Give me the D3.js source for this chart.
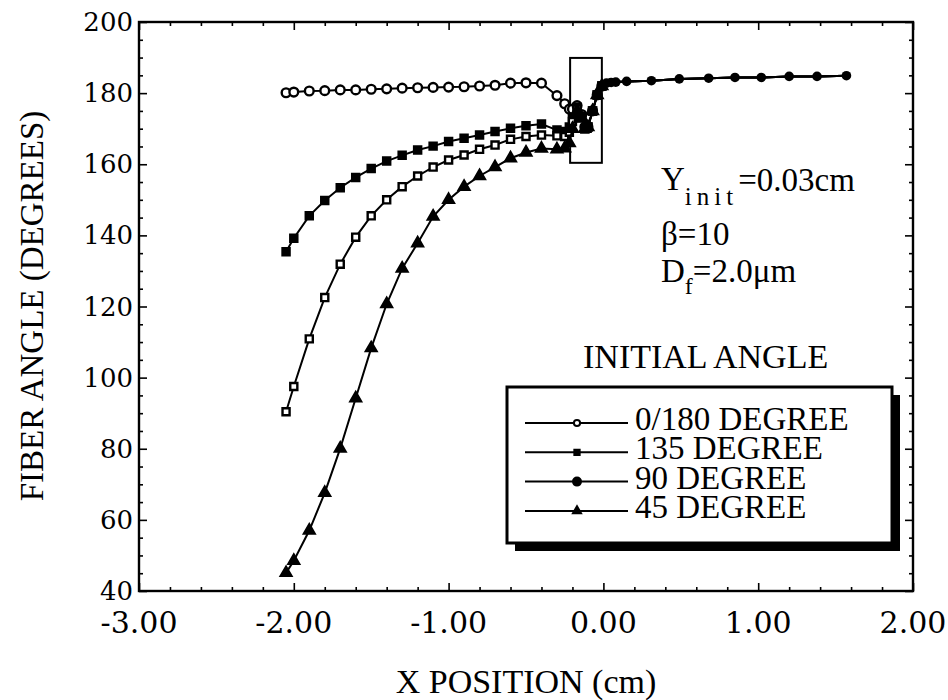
<!DOCTYPE html>
<html>
<head>
<meta charset="utf-8">
<script src="https://cdn.jsdelivr.net/npm/d3@7.9.0/dist/d3.min.js"></script>
<style>
  body { margin: 0; background: #fff; }
  svg { display: block; }
  text { fill: #000; }
</style>
</head>
<body>
<svg width="948" height="700"></svg>
<script>
// x positions shared by all four runs, up to the box
const xApproach = [-2.05, -2.0, -1.9, -1.8, -1.7, -1.6, -1.5, -1.4, -1.3, -1.2, -1.1,
                   -1.0, -0.9, -0.8, -0.7, -0.6, -0.5, -0.4, -0.3, -0.25, -0.22];
// points inside the box
const xBox = [-0.2, -0.17, -0.14, -0.12, -0.1, -0.07, -0.04, -0.01];
// after the box all curves run together
const xTail = [0.02, 0.05, 0.08, 0.15, 0.31, 0.49, 0.68, 0.85, 1.02, 1.2, 1.38, 1.57];
const yTail = [182.8, 183, 183.1, 183.3, 183.5, 184.0, 184.2, 184.4, 184.4, 184.7, 184.7, 184.9];

const y0 = [180.1, 180.3, 180.6, 180.7, 180.9, 180.9, 181.1, 181.2, 181.4, 181.5, 181.6,
            181.7, 181.8, 182.0, 182.2, 182.8, 182.9, 182.8, 179.3, 177, 175.5,
            175.5, 176.5, 174, 170.5, 170.5, 175, 179.5, 182];
const y135 = [135.4, 139.2, 145.5, 149.8, 153.4, 156.3, 158.8, 160.9, 162.5, 164.0, 165.1,
              166.4, 167.3, 168.2, 169.2, 170.1, 170.8, 171.3, 169.6, 169.2, 170.5,
              173, 176, 173.5, 170, 170.5, 175, 179.5, 182];
const y90 = [90.4, 97.5, 110.9, 122.5, 131.9, 139.5, 145.5, 150, 153.7, 156.7, 159.2,
             161.2, 162.6, 164.2, 165.4, 167, 167.8, 168.2, 168, 167.8, 169,
             172, 175.5, 173, 170, 170.5, 175, 179.5, 182];
const y45 = [45.1, 48.5, 57, 67.6, 80.1, 94.2, 108.3, 120.7, 130.7, 137.8, 145.3,
             150, 153.7, 156.7, 159.2, 161.7, 163.3, 164.4, 164.2, 164.5, 166,
             170, 175, 173, 170, 170.5, 175, 179.5, 182];

const seriesNames = ['0/180 DEGREE', '135 DEGREE', '90 DEGREE', '45 DEGREE'];
const xTicks = [-3, -2, -1, 0, 1, 2];
const yTicks = [40, 60, 80, 100, 120, 140, 160, 180, 200];
const boxX = [-0.215, -0.01];
const boxY = [160.4, 189.9];

const svg = d3.select('svg');
const serif = 'Liberation Serif';
const tickFont = 'DejaVu Serif';

let x = d3.scaleLinear().domain([-3, 2]).range([139, 913]);
let y = d3.scaleLinear().domain([40, 200]).range([591, 22]);

const xMinor = d3.range(-3, 2.001, 0.2).map(d => +d.toFixed(1)).filter(d => !xTicks.includes(d));
const yMinor = d3.range(40, 201, 5).filter(d => !yTicks.includes(d));

// tick marks on all four sides, pointing inward
function ticks(axis, tr, vals, len) {
  let g = svg.append('g').attr('transform', tr)
    .call(axis.tickValues(vals).tickSize(-len).tickFormat(''));
  g.select('.domain').remove();
  g.selectAll('line').attr('stroke', '#000').attr('stroke-width', 1.6);
  return g;
}
ticks(d3.axisBottom(x), 'translate(0,591)', xTicks, 8);
ticks(d3.axisBottom(x), 'translate(0,591)', xMinor, 4);
ticks(d3.axisTop(x), 'translate(0,22)', xTicks, 8);
ticks(d3.axisTop(x), 'translate(0,22)', xMinor, 4);
ticks(d3.axisLeft(y), 'translate(139,0)', yTicks, 8);
ticks(d3.axisLeft(y), 'translate(139,0)', yMinor, 4);
ticks(d3.axisRight(y), 'translate(913,0)', yTicks, 8);
ticks(d3.axisRight(y), 'translate(913,0)', yMinor, 4);

// frame
svg.append('rect')
  .attr('x', 139).attr('y', 22).attr('width', 913 - 139).attr('height', 591 - 22)
  .attr('fill', 'none').attr('stroke', '#000').attr('stroke-width', 2.4);

// tick labels
svg.append('g').selectAll('text').data(xTicks).join('text')
  .attr('x', d => x(d)).attr('y', 633)
  .attr('text-anchor', 'middle')
  .attr('font-family', tickFont).attr('font-size', 30)
  .text(d => d.toFixed(2));
svg.append('g').selectAll('text').data(yTicks).join('text')
  .attr('x', 133).attr('y', d => y(d) + 9)
  .attr('text-anchor', 'end')
  .attr('font-family', tickFont).attr('font-size', 26)
  .text(d => d);

// axis titles
svg.append('text')
  .attr('x', 526).attr('y', 693).attr('text-anchor', 'middle')
  .attr('font-family', serif).attr('font-size', 34)
  .text('X POSITION (cm)');
svg.append('text')
  .attr('transform', 'translate(43,306) rotate(-90)').attr('text-anchor', 'middle')
  .attr('font-family', serif).attr('font-size', 33)
  .text('FIBER ANGLE (DEGREES)');

// box around the fiber region
svg.append('rect')
  .attr('x', x(boxX[0])).attr('y', y(boxY[1]))
  .attr('width', x(boxX[1]) - x(boxX[0])).attr('height', y(boxY[0]) - y(boxY[1]))
  .attr('fill', 'none').attr('stroke', '#000').attr('stroke-width', 2);

const xHead = xApproach.concat(xBox);
const line = d3.line().x(d => x(d[0])).y(d => y(d[1]));

const series = [
  { ys: y0, sym: d3.symbolCircle, size: 60, fill: '#fff' },
  { ys: y135, sym: d3.symbolSquare, size: 50, fill: '#000' },
  { ys: y90, sym: d3.symbolSquare, size: 50, fill: '#fff' },
  { ys: y45, sym: d3.symbolTriangle, size: 48, fill: '#000' }
];

series.forEach(s => {
  let pts = xHead.map((xv, i) => [xv, s.ys[i]]);
  let all = pts.concat(xTail.map((xv, i) => [xv, yTail[i]]));
  svg.append('path').attr('d', line(all))
    .attr('fill', 'none').attr('stroke', '#000').attr('stroke-width', 2);
  svg.append('g').selectAll('path').data(pts).join('path')
    .attr('transform', d => `translate(${x(d[0])},${y(d[1])})`)
    .attr('d', d3.symbol(s.sym, s.size))
    .attr('fill', s.fill).attr('stroke', '#000').attr('stroke-width', 2.4);
});

// shared tail, filled circles
svg.append('g').selectAll('circle').data(xTail).join('circle')
  .attr('cx', d => x(d)).attr('cy', (d, i) => y(yTail[i]))
  .attr('r', 4.8).attr('fill', '#000');

// annotation
let ann = svg.append('g').attr('font-family', serif).attr('font-size', 33);
let t1 = ann.append('text').attr('x', 661).attr('y', 190);
t1.append('tspan').text('Y');
t1.append('tspan').attr('dy', 15).attr('font-size', 25).attr('letter-spacing', 5).text('init');
t1.append('tspan').attr('dy', -14).text('=0.03cm');
ann.append('text').attr('x', 661).attr('y', 245).text('β=10');
let t3 = ann.append('text').attr('x', 661).attr('y', 282);
t3.append('tspan').text('D');
t3.append('tspan').attr('dy', 12).attr('font-size', 24).text('f');
t3.append('tspan').attr('dy', -12).text('=2.0μm');
ann.append('text').attr('x', 583).attr('y', 368).attr('font-size', 34).text('INITIAL ANGLE');

// legend
svg.append('rect').attr('x', 515).attr('y', 395).attr('width', 385).attr('height', 156).attr('fill', '#000');
svg.append('rect').attr('x', 507).attr('y', 387).attr('width', 385).attr('height', 156)
  .attr('fill', '#fff').attr('stroke', '#000').attr('stroke-width', 3);

const legendMarks = [
  { sym: d3.symbolCircle, size: 30, fill: '#fff' },
  { sym: d3.symbolSquare, size: 28, fill: '#000' },
  { sym: d3.symbolCircle, size: 50, fill: '#000' },
  { sym: d3.symbolTriangle, size: 28, fill: '#000' }
];
seriesNames.forEach((name, i) => {
  let by = 430 + i * 29.3;
  let g = svg.append('g');
  g.append('line').attr('x1', 525).attr('x2', 628).attr('y1', by - 7).attr('y2', by - 7)
    .attr('stroke', '#000').attr('stroke-width', 2);
  g.append('path').attr('transform', `translate(577,${by - 7})`)
    .attr('d', d3.symbol(legendMarks[i].sym, legendMarks[i].size))
    .attr('fill', legendMarks[i].fill).attr('stroke', '#000').attr('stroke-width', 2);
  g.append('text').attr('x', 635).attr('y', by)
    .attr('font-family', serif).attr('font-size', 33).text(name);
});
</script>
</body>
</html>
